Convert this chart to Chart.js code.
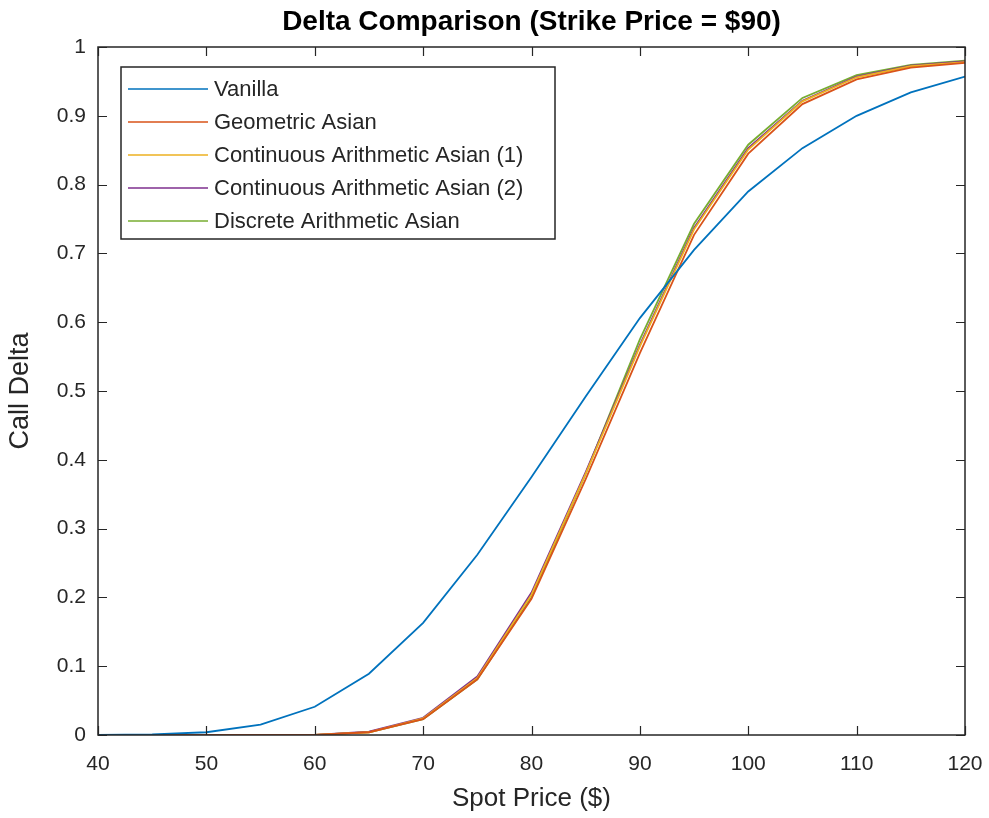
<!DOCTYPE html>
<html>
<head>
<meta charset="utf-8">
<script src="https://cdn.jsdelivr.net/npm/chart.js@4.4.1/dist/chart.umd.min.js"></script>
<style>
    html, body { margin: 0; padding: 0; background: white; }
    #wrap { width: 989px; height: 818px; }
</style>
</head>
<body>
<div id="wrap"><canvas id="myChart" width="989" height="818"></canvas></div>
<script>
// spot prices
const spotPrices = [40, 45, 50, 55, 60, 65, 70, 75, 80, 85, 90, 95, 100, 105, 110, 115, 120];
// deltas
const vanilla = [0.0002, 0.001, 0.004, 0.015, 0.041, 0.089, 0.163, 0.262, 0.375, 0.492, 0.606, 0.705, 0.790, 0.853, 0.900, 0.934, 0.957];
const geometricAsian = [0, 0, 0, 0, 0.0003, 0.004, 0.023, 0.081, 0.198, 0.372, 0.555, 0.727, 0.845, 0.917, 0.953, 0.970, 0.977];
const contArith1 = [0, 0, 0, 0, 0.0003, 0.004, 0.024, 0.083, 0.204, 0.380, 0.565, 0.735, 0.851, 0.921, 0.956, 0.972, 0.978];
const contArith2 = [0, 0, 0, 0, 0.0003, 0.005, 0.025, 0.085, 0.207, 0.382, 0.567, 0.737, 0.853, 0.922, 0.957, 0.973, 0.979];
const discreteArith = [0, 0, 0, 0, 0.0003, 0.004, 0.023, 0.081, 0.200, 0.380, 0.575, 0.743, 0.858, 0.926, 0.959, 0.974, 0.980];
const seriesNames = ["Vanilla", "Geometric Asian", "Continuous Arithmetic Asian (1)", "Continuous Arithmetic Asian (2)", "Discrete Arithmetic Asian"];
const seriesColors = ["#0072BD", "#D95319", "#EDB120", "#7E2F8E", "#77AC30"];
const xTicks = [40, 50, 60, 70, 80, 90, 100, 110, 120];
const yTicks = [0, 0.1, 0.2, 0.3, 0.4, 0.5, 0.6, 0.7, 0.8, 0.9, 1];

const allSeries = [vanilla, geometricAsian, contArith1, contArith2, discreteArith];
const fontName = "'Liberation Sans', Arial, Helvetica, sans-serif";

// 框線 + 向內刻度 + 圖例
const boxPlugin = {
    id: 'boxPlugin',
    afterDatasetsDraw(chart) {
        const ctx = chart.ctx;
        const a = chart.chartArea;
        const xs = chart.scales.x;
        const ys = chart.scales.y;
        ctx.save();
        ctx.strokeStyle = '#262626';
        ctx.lineWidth = 1.5;
        ctx.strokeRect(a.left, a.top, a.right - a.left, a.bottom - a.top);
        ctx.lineWidth = 1.2;
        const tl = 9;
        xTicks.forEach(v => {
            let px = Math.round(xs.getPixelForValue(v)) + 0.5;
            ctx.beginPath();
            ctx.moveTo(px, a.bottom); ctx.lineTo(px, a.bottom - tl);
            ctx.moveTo(px, a.top); ctx.lineTo(px, a.top + tl);
            ctx.stroke();
        });
        yTicks.forEach(v => {
            let py = Math.round(ys.getPixelForValue(v)) + 0.5;
            ctx.beginPath();
            ctx.moveTo(a.left, py); ctx.lineTo(a.left + tl, py);
            ctx.moveTo(a.right, py); ctx.lineTo(a.right - tl, py);
            ctx.stroke();
        });

        // legend
        const lx = a.left + 23;
        const ly = a.top + 20;
        const lw = 434;
        const rowH = 33;
        const lh = 172;
        ctx.fillStyle = 'white';
        ctx.fillRect(lx, ly, lw, lh);
        ctx.strokeStyle = '#262626';
        ctx.lineWidth = 1.5;
        ctx.strokeRect(lx, ly, lw, lh);
        ctx.font = '22px ' + fontName;
        ctx.textBaseline = 'middle';
        ctx.textAlign = 'left';
        seriesNames.forEach((name, i) => {
            const yy = ly + 22 + i * rowH;
            ctx.strokeStyle = seriesColors[i];
            ctx.lineWidth = 1.5;
            ctx.beginPath();
            ctx.moveTo(lx + 7, yy); ctx.lineTo(lx + 87, yy);
            ctx.stroke();
            ctx.fillStyle = '#262626';
            ctx.fillText(name, lx + 93, yy + 1);
        });
        ctx.restore();
    }
};

const ctx = document.getElementById('myChart').getContext('2d');
const myChart = new Chart(ctx, {
    type: 'line',
    data: {
        datasets: allSeries.map((s, i) => ({
            label: seriesNames[i],
            data: spotPrices.map((x, j) => ({ x: x, y: s[j] })),
            borderColor: seriesColors[i],
            backgroundColor: seriesColors[i],
            borderWidth: 1.8,
            pointRadius: 0,
            fill: false,
            tension: 0
        }))
    },
    options: {
        responsive: false,
        animation: false,
        layout: { padding: { left: 0, right: 24, top: 0, bottom: 0 } },
        plugins: {
            legend: { display: false },
            tooltip: { enabled: false },
            title: {
                display: true,
                fullSize: false,
                text: 'Delta Comparison (Strike Price = $90)',
                color: '#000',
                font: { family: fontName, size: 28, weight: 'bold', lineHeight: 1.0 },
                padding: { top: 8, bottom: 11 }
            }
        },
        scales: {
            x: {
                type: 'linear',
                min: 40,
                max: 120,
                afterBuildTicks: axis => { axis.ticks = xTicks.map(v => ({ value: v })); },
                afterFit: axis => { axis.height = 83; axis.paddingLeft = 0; axis.paddingRight = 0; },
                grid: { display: false, drawTicks: false },
                border: { display: false },
                ticks: { color: '#262626', font: { family: fontName, size: 21 }, padding: 17 },
                title: { display: true, text: 'Spot Price ($)', color: '#262626', font: { family: fontName, size: 26 }, padding: { top: 4 } }
            },
            y: {
                min: 0,
                max: 1,
                afterBuildTicks: axis => { axis.ticks = yTicks.map(v => ({ value: v })); },
                afterFit: axis => { axis.width = 98; axis.paddingTop = 0; axis.paddingBottom = 0; },
                grid: { display: false, drawTicks: false },
                border: { display: false },
                ticks: {
                    color: '#262626',
                    font: { family: fontName, size: 21 },
                    padding: 12,
                    callback: v => String(Math.round(v * 10) / 10)
                },
                title: { display: true, text: 'Call Delta', color: '#262626', font: { family: fontName, size: 27 }, padding: { bottom: 2 } }
            }
        }
    },
    plugins: [boxPlugin]
});
</script>
</body>
</html>
